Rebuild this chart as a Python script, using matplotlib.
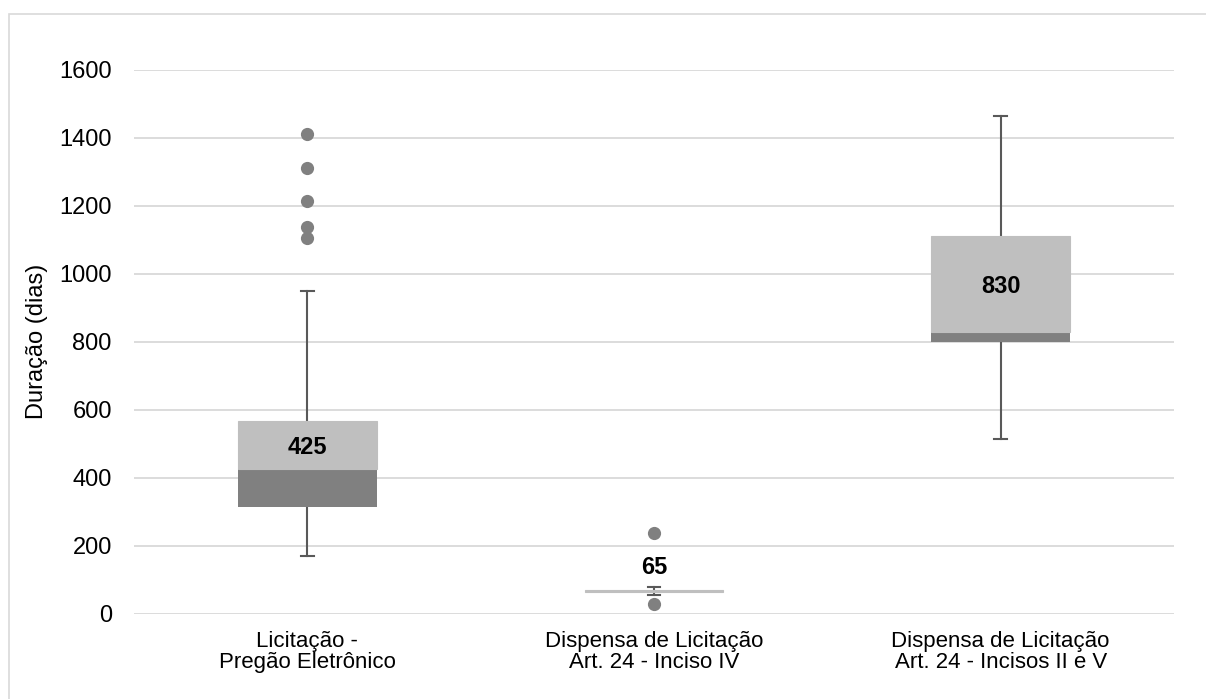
import matplotlib.pyplot as plt
from matplotlib.patches import Rectangle

plt.rcParams['font.family'] = ['Liberation Sans', 'DejaVu Sans']

# box plot stats (dias)
categories = ["Licitação -\nPregão Eletrônico",
              "Dispensa de Licitação\nArt. 24 - Inciso IV",
              "Dispensa de Licitação\nArt. 24 - Incisos II e V"]
whisker_low = [170, 56, 515]
q1 = [315, 65, 798]
median = [425, 65, 830]
q3 = [568, 70, 1110]
whisker_high = [950, 79, 1465]
outliers = [[1410, 1310, 1213, 1137, 1105],
            [238, 29],
            []]
yticks = [0, 200, 400, 600, 800, 1000, 1200, 1400, 1600]

dark = "#808080"
light = "#BFBFBF"
line_col = "#595959"
grid_col = "#D9D9D9"

fig = plt.figure(figsize=(12.06, 6.99), dpi=100)
# outer chart border like the excel chart area
fig.patches.append(Rectangle((9 / 1206, -0.01), 1.02, 1 - 14 / 699 + 0.01,
                             transform=fig.transFigure, fill=False,
                             edgecolor=grid_col, linewidth=1.2))
ax = fig.add_axes([134 / 1206, 1 - 614 / 699, (1174 - 134) / 1206, (614 - 69.6) / 699])

xs = [i + 1 for i in range(len(categories))]
w = 0.40
ax.bar(xs, [b - a for a, b in zip(q1, median)], bottom=q1, width=w, color=dark, zorder=3)
ax.bar(xs, [b - a for a, b in zip(median, q3)], bottom=median, width=w, color=light,
       edgecolor=light, linewidth=0.8, zorder=3)

for i, x in enumerate(xs):
    ax.plot([x, x], [whisker_low[i], q1[i]], color=line_col, lw=1.5, zorder=2)
    ax.plot([x, x], [q3[i], whisker_high[i]], color=line_col, lw=1.5, zorder=2)
    ax.plot([x - 0.018, x + 0.018], [whisker_low[i]] * 2, color=line_col, lw=1.5, zorder=2)
    ax.plot([x - 0.018, x + 0.018], [whisker_high[i]] * 2, color=line_col, lw=1.5, zorder=2)
    if outliers[i]:
        ax.plot([x] * len(outliers[i]), outliers[i], "o", color=dark, ms=9.5,
                mec="none", zorder=4)
    if q3[i] - median[i] > 60:
        ax.text(x, (median[i] + q3[i]) / 2 - 8, str(median[i]), ha="center", va="center",
                fontsize=17, fontweight="bold", zorder=5)
    else:
        ax.annotate(str(median[i]), (x, whisker_high[i]), xytext=(0, 14),
                    textcoords="offset points", ha="center", va="center",
                    fontsize=17, fontweight="bold", zorder=5)

ax.set_xlim(0.5, len(categories) + 0.5)
ax.set_ylim(0, 1600)
ax.set_yticks(yticks)
ax.set_xticks(xs)
ax.set_xticklabels(categories, fontsize=16, color="#000000", linespacing=1.05)
ax.tick_params(axis="y", labelsize=17, length=0, pad=16, colors="#000000")
ax.tick_params(axis="x", length=0, pad=12)
ax.yaxis.grid(True, color=grid_col, lw=1.3, zorder=0)
ax.set_axisbelow(True)
for s in ax.spines.values():
    s.set_visible(False)
ax.set_ylabel("Duração (dias)", fontsize=17, labelpad=8)

fig.savefig("out.png", dpi=100)
